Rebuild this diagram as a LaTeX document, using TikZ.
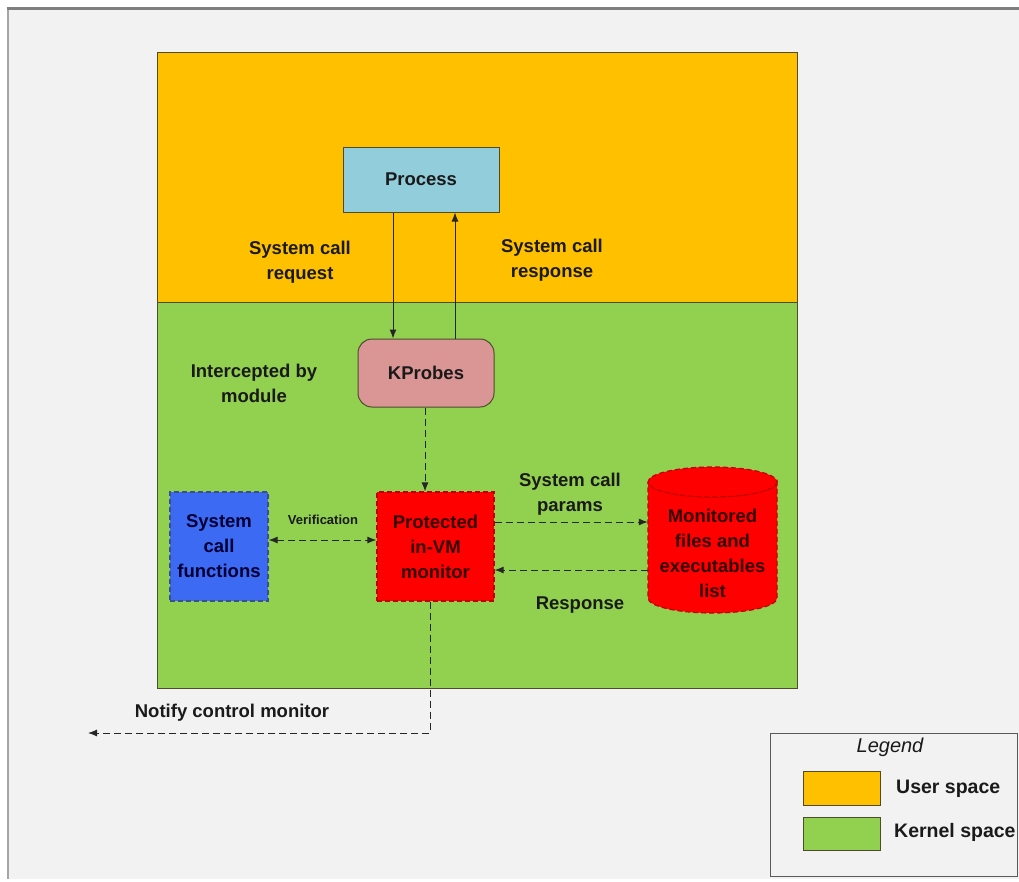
\documentclass[tikz,border=0pt]{standalone}
\usepackage{fontspec}
\setmainfont{Liberation Sans}
\usetikzlibrary{arrows.meta,shapes.geometric}
\definecolor{bggray}{HTML}{F2F2F2}
\definecolor{framegray}{HTML}{7F7F7F}
\definecolor{userc}{HTML}{FFC000}
\definecolor{kernc}{HTML}{92D050}
\definecolor{procc}{HTML}{92CDDC}
\definecolor{kpc}{HTML}{D99694}
\definecolor{monc}{HTML}{FF0000}
\definecolor{monb}{HTML}{C00000}
\definecolor{sysc}{HTML}{3C6AF2}
\definecolor{sysb}{HTML}{3A4F8F}
\definecolor{txt}{HTML}{1A1A1A}
\definecolor{edgec}{HTML}{4D4D2E}
\begin{document}
\begin{tikzpicture}[x=1pt,y=-1pt,
  lbl/.style={font=\fontsize{18.5}{25}\selectfont\bfseries, text=txt, align=center, inner sep=0pt},
  small/.style={font=\fontsize{13}{15}\selectfont\bfseries, text=txt, inner sep=0pt},
  region/.style={draw=edgec, line width=1pt, inner sep=0pt},
  boxn/.style={draw=edgec, line width=1pt, inner sep=0pt, font=\fontsize{18.5}{25}\selectfont\bfseries, text=txt, align=center},
  arr/.style={draw=black!85, line width=1pt, -{Latex[length=9pt,width=7pt]}},
  darr/.style={arr, dash pattern=on 7pt off 4pt},
  dborder/.style={dash pattern=on 5pt off 3pt, line width=1.2pt}
]
\useasboundingbox (0,0) rectangle (1019,881);
\fill[white] (0,0) rectangle (1019,881);
\fill[bggray] (8,8) rectangle (1019,879);
\draw[framegray!70, line width=1.5pt] (8,8) -- (8,879);
\draw[framegray, line width=3pt] (7,8) -- (1019,8);

% regions
\node (user) [region, fill=userc, minimum width=640, minimum height=250] at (477,177) {};
\node (kern) [region, fill=kernc, minimum width=640, minimum height=386] at (477,495) {};

% main nodes
\node (proc) [boxn, fill=procc, minimum width=156, minimum height=65] at (421,179.5) {Process};
\node (kp) [boxn, fill=kpc, rounded corners=14pt, minimum width=136, minimum height=68] at (426,373) {KProbes};
\node (mon) [boxn, fill=monc, draw=monb, dborder, minimum width=117, minimum height=109, text=black!80!red] at (435.5,546.5) {Protected\\in-VM\\monitor};
\node (sys) [boxn, fill=sysc, draw=sysb, dborder, minimum width=98, minimum height=109, text=black!80!blue] at (219,546.5) {System\\call\\functions};

% cylinder
\node (db) [minimum width=129, minimum height=146, inner sep=0pt] at (712.5,540) {};
\filldraw[fill=monc, draw=monb, dborder]
  (648,482) arc[start angle=180, end angle=360, x radius=64.5, y radius=-15]
  -- (777,598) arc[start angle=0, end angle=-180, x radius=64.5, y radius=-15] -- cycle;
\filldraw[fill=monc, draw=monb, dborder]
  (712.5,482) ellipse[x radius=64.5, y radius=15];
\node[lbl, text=black!80!red] at (712.5,553) {Monitored\\files and\\executables\\list};

% labels
\node[lbl] at (300,262.5) {System call\\request};
\node[lbl] at (552,260.5) {System call\\response};
\node[lbl] at (254,383.5) {Intercepted by\\module};
\node[small] at (323,520) {Verification};
\node[lbl] at (570,494) {System call\\params};
\node[lbl] at (580,605) {Response};
\node[lbl] at (232,713) {Notify control monitor};

% connectors
\coordinate (reqx) at (393,0);
\coordinate (resx) at (455,0);
\draw[arr] (proc.south -| reqx) -- (kp.north -| reqx);
\draw[arr] (kp.north -| resx) -- (proc.south -| resx);
\draw[darr] (kp.south -| 425,0) -- (mon.north -| 425,0);
\coordinate (veriy) at (0,540);
\draw[darr, {Latex[length=9pt,width=7pt]}-{Latex[length=9pt,width=7pt]}] (sys.east |- veriy) -- (mon.west |- veriy);
\coordinate (parmy) at (0,522);
\draw[darr] (mon.east |- parmy) -- (db.west |- parmy);
\coordinate (respy) at (0,570);
\draw[darr] (db.west |- respy) -- (mon.east |- respy);
\coordinate (notx) at (430,0);
\coordinate (notend) at (88,733);
\draw[darr] (mon.south -| notx) -- (notx |- notend) -- (notend);

% legend
\node (leg) [draw=black!65, line width=1pt, minimum width=247, minimum height=143, inner sep=0pt] at (893.5,804.5) {};
\node[font=\fontsize{20}{24}\selectfont\itshape, text=txt] at (890,747) {Legend};
\node (legu) [region, fill=userc, minimum width=77, minimum height=34] at (841.5,788) {};
\node (legk) [region, fill=kernc, minimum width=77, minimum height=33] at (841.5,833.5) {};
\node[lbl, font=\fontsize{19.5}{24}\selectfont\bfseries, anchor=west] at (896,789) {User space};
\node[lbl, font=\fontsize{19.5}{24}\selectfont\bfseries, anchor=west] at (894,832) {Kernel space};
\end{tikzpicture}
\end{document}
